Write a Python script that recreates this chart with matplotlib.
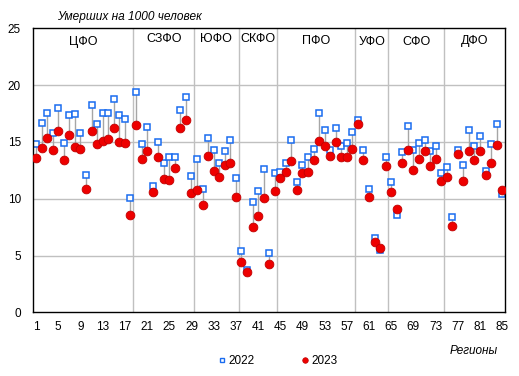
import matplotlib
matplotlib.use("Agg")
import matplotlib.pyplot as plt
from matplotlib.lines import Line2D
import numpy as np

plt.rcParams['font.family'] = ['Liberation Sans', 'DejaVu Sans']

regions = list(range(1, 86))
vals_2022 = [14.82, 16.67, 17.55, 15.79, 18.01, 14.9, 17.37, 17.46, 15.79, 12.09,
             18.25, 16.58, 17.55, 17.55, 18.78, 17.37, 17.02, 10.07, 19.4, 14.85,
             16.31, 11.13, 15.0, 13.15, 13.68, 13.68, 17.81, 18.95, 12.0, 13.5,
             10.86, 15.35, 14.29, 13.15, 14.2, 15.17, 11.83, 5.41, 3.68, 9.72,
             10.69, 12.62, 5.23, 12.27, 12.36, 13.15, 15.17, 11.5, 12.97, 13.68,
             14.38, 17.55, 16.05, 14.29, 16.25, 14.64, 14.91, 15.88, 16.9, 14.29,
             10.86, 6.55, 5.5, 13.68, 11.48, 8.58, 14.12, 16.4, 14.29, 14.91,
             15.17, 14.2, 14.64, 12.27, 12.8, 8.4, 14.25, 12.97, 16.05, 14.64,
             15.52, 12.45, 14.82, 16.58, 10.42]
vals_2023 = [13.55, 14.49, 15.37, 14.32, 15.99, 13.38, 15.64, 14.58, 14.41, 10.83,
             15.99, 14.85, 15.11, 15.29, 16.25, 15.02, 14.93, 8.6, 16.46, 13.47,
             14.17, 10.56, 13.64, 11.71, 11.62, 12.67, 16.25, 16.9, 10.48, 10.74,
             9.42, 13.73, 12.41, 11.88, 12.94, 13.11, 10.12, 4.41, 3.53, 7.55,
             8.51, 10.1, 4.29, 10.71, 11.86, 12.38, 13.35, 10.8, 12.29, 12.38,
             13.44, 15.07, 14.6, 13.8, 14.96, 13.64, 13.64, 14.35, 16.54, 13.38,
             10.18, 6.17, 5.67, 12.85, 10.56, 9.07, 13.11, 14.32, 12.5, 13.47,
             14.17, 12.85, 13.47, 11.53, 11.88, 7.63, 13.9, 11.59, 14.17, 13.38,
             14.17, 12.06, 13.11, 14.7, 10.74]

districts = ['ЦФО', 'СЗФО', 'ЮФО', 'СКФО', 'ПФО', 'УФО', 'СФО', 'ДФО']
district_sizes = [18, 11, 8, 7, 14, 6, 10, 11]
district_label_y = [23.8, 24.1, 24.1, 24.05, 23.88, 23.82, 23.82, 23.9]
x_ticks = list(range(1, 86, 4))
y_ticks = [0, 5, 10, 15, 20, 25]

W, H = 519, 376
fig = plt.figure(figsize=(W / 100, H / 100), dpi=100)
L, R, T, B = 33.3, 505.0, 28.3, 312.3
ax = fig.add_axes([L / W, 1 - B / H, (R - L) / W, (B - T) / H])

grid_c = '#c0c0c0'
for yv in y_ticks[1:-1]:
    ax.axhline(yv, color=grid_c, lw=1.0, zorder=0)

start = 0
for name, size, ly in zip(districts, district_sizes, district_label_y):
    end = start + size
    if end < 85:
        ax.axvline(end + 0.5, color=grid_c, lw=1.0, zorder=0)
    ax.text((start + end) / 2 + 0.5, ly, name, ha='center', va='center', fontsize=9)
    start = end

x = np.array(regions)
a = np.array(vals_2022)
b = np.array(vals_2023)
ax.vlines(x, np.minimum(a, b), np.maximum(a, b), color='#a6a6a6', lw=1.0, zorder=1)
ax.plot(x, a, ls='none', marker='s', ms=4.6, mfc='white', mec='#1a6cf0', mew=1.1, zorder=2)
ax.plot(x, b, ls='none', marker='o', ms=6.3, mfc='#ee0000', mec='#c00000', mew=0.6, zorder=3)

ax.set_xlim(0.5, 85.5)
ax.set_ylim(0, 25)
ax.set_xticks(x_ticks)
ax.set_yticks(y_ticks)
ax.tick_params(axis='both', length=0, labelsize=8.5)
ax.tick_params(axis='y', pad=9)
ax.tick_params(axis='x', pad=6)
for s in ax.spines.values():
    s.set_color('black')
    s.set_linewidth(1.0)

fig.text(57 / W, 1 - 17 / H, 'Умерших на 1000 человек', style='italic', fontsize=8.6,
         ha='left', va='center')
fig.text(474 / W, 1 - 351 / H, 'Регионы', style='italic', fontsize=8.5,
         ha='center', va='center')

handles = [Line2D([], [], ls='none', marker='s', ms=3.5, mfc='white', mec='#1a6cf0', mew=1.0),
           Line2D([], [], ls='none', marker='o', ms=4.0, mfc='#ee0000', mec='#c00000', mew=0.5)]
fig.legend(handles, ['2022', '2023'], loc='center', bbox_to_anchor=(278 / W, 1 - 361 / H),
           ncol=2, frameon=False, fontsize=8.5, handlelength=0.6, handletextpad=0.3,
           columnspacing=3.9, borderpad=0)

fig.savefig('out.png', dpi=100)
